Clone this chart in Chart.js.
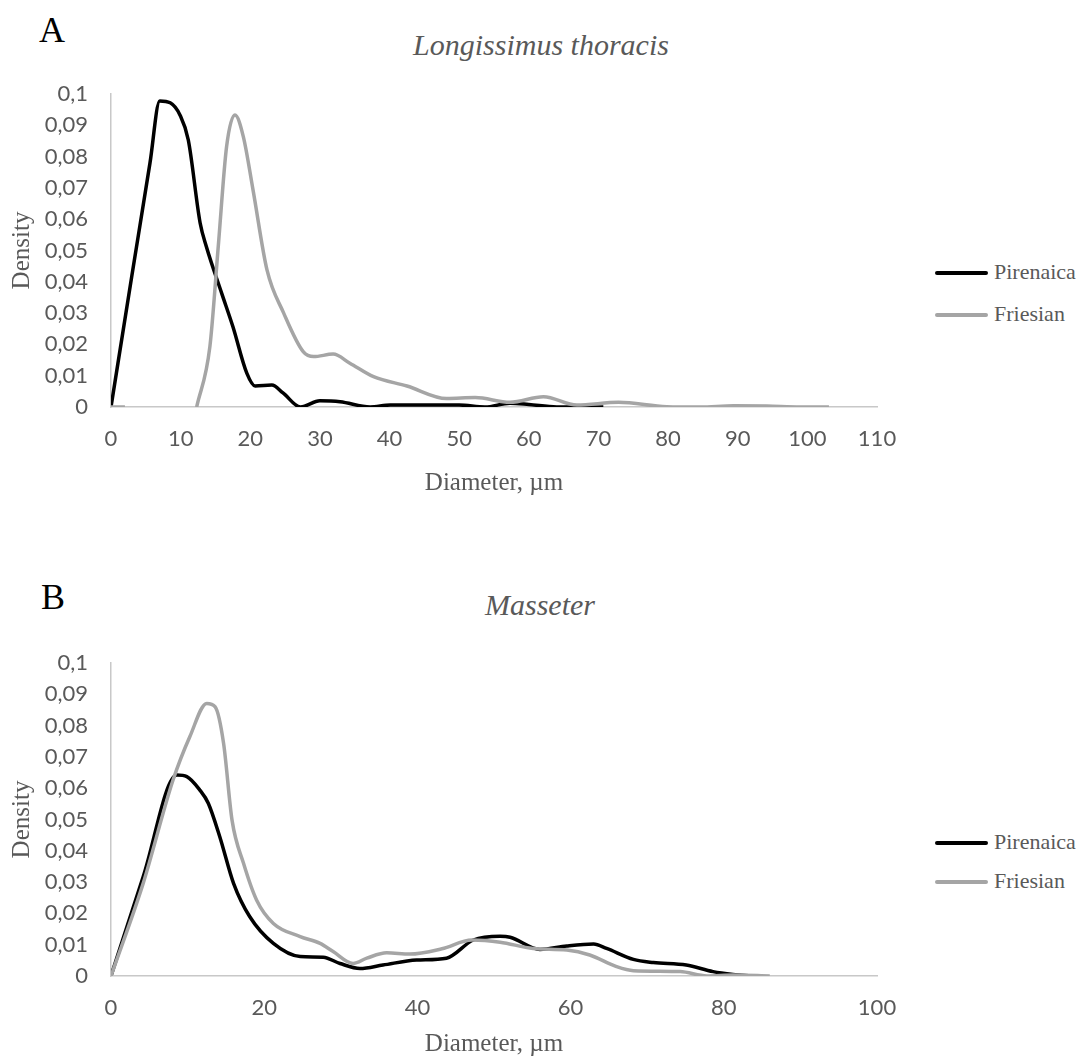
<!DOCTYPE html>
<html>
<head>
<meta charset="utf-8">
<script src="https://cdn.jsdelivr.net/npm/chart.js@4.4.1/dist/chart.umd.min.js"></script>
<style>
  html, body { margin: 0; padding: 0; background: #fff; }
  body { position: relative; width: 1084px; height: 1059px; overflow: hidden; }
  canvas { position: absolute; left: 0; }
  .t { position: absolute; transform: translate(-50%, -50%); white-space: nowrap; font-family: "Liberation Serif", serif; }
  .letter { font-size: 36px; color: #000; }
  .title { font-size: 30px; font-style: italic; color: #595959; }
  .lg { position: absolute; left: 935px; height: 0; }
  .lg .ln { position: absolute; left: 0; top: -2px; width: 53px; height: 4px; border-radius: 2px; }
  .lg .tx { position: absolute; left: 59px; top: -14px; font-family: "Liberation Serif", serif; font-size: 22px; color: #595959; line-height: 26px; white-space: nowrap; }
</style>
</head>
<body>
<div class="t letter" style="left:52px; top:30px;">A</div>
<div class="t title" style="left:541px; top:45px;">Longissimus thoracis</div>
<div class="t letter" style="left:53px; top:597px;">B</div>
<div class="t title" style="left:540px; top:605px;">Masseter</div>

<div class="lg" style="top:273px;"><div class="ln" style="background:#000"></div><div class="tx">Pirenaica</div></div>
<div class="lg" style="top:315px;"><div class="ln" style="background:#a5a5a5"></div><div class="tx">Friesian</div></div>
<div class="lg" style="top:843px;"><div class="ln" style="background:#000"></div><div class="tx">Pirenaica</div></div>
<div class="lg" style="top:882px;"><div class="ln" style="background:#a5a5a5"></div><div class="tx">Friesian</div></div>

<canvas id="cA" width="1084" height="498" style="top:0px;"></canvas>
<canvas id="cB" width="1084" height="539" style="top:520px;"></canvas>

<script>
// ---- Data ----
const seriesNames = ["Pirenaica", "Friesian"];

// Panel A: Longissimus thoracis
const ltPirenaicaX = [0, 3, 5.6, 7.0, 8.5, 9.9, 11.1, 12.8, 13.7, 15.9, 17.5, 19.5, 20.7, 23.1, 24.7, 27.2, 30.0, 32.9, 37.2, 40.1, 45, 50, 53.7, 57.3, 60, 64, 70.7];
const ltPirenaicaY = [0, 0.042, 0.078, 0.0978, 0.0972, 0.0933, 0.0853, 0.0588, 0.0512, 0.0363, 0.0257, 0.0108, 0.0067, 0.007, 0.0045, 0, 0.002, 0.0017, 0, 0.0006, 0.0006, 0.0006, 0, 0.0012, 0.0008, 0, 0];
const ltFriesianX = [0, 2, 2.1, 12.3, 14.2, 15.4, 16.6, 17.8, 19.0, 20.4, 22.4, 24.8, 27.6, 29.1, 31.9, 34.3, 37.7, 42.5, 48.2, 52.3, 57.3, 62.1, 66.9, 72.9, 79.8, 84.6, 89.4, 94.2, 99, 103.1];
const ltFriesianY = [0, 0, null, 0, 0.0193, 0.0512, 0.0832, 0.0933, 0.0864, 0.0693, 0.0438, 0.030, 0.0177, 0.0161, 0.0169, 0.014, 0.0097, 0.0067, 0.0027, 0.003, 0.0015, 0.0033, 0.0006, 0.0015, 0.0001, 0, 0.0004, 0.0003, 0, 0];

// Panel B: Masseter
const maPirenaicaX = [0, 4.2, 8.6, 9.9, 11.6, 12.7, 14.2, 16.0, 18.1, 21.2, 24.7, 27.7, 29.9, 32.5, 35.5, 39.9, 43.8, 47.3, 50.8, 52.1, 56.0, 59.5, 63.0, 64.7, 68.2, 70.8, 75.1, 78.6, 81.2, 83.6];
const maPirenaicaY = [0, 0.0317, 0.0642, 0.0637, 0.0594, 0.0552, 0.0445, 0.0296, 0.019, 0.0104, 0.0062, 0.006, 0.004, 0.0024, 0.0035, 0.0051, 0.0057, 0.0115, 0.0127, 0.0124, 0.0085, 0.0096, 0.0102, 0.0088, 0.0053, 0.0043, 0.0035, 0.0014, 0.0005, 0];
const maFriesianX = [0, 4.2, 8.1, 10.3, 12.5, 13.6, 14.7, 15.8, 17.3, 19.0, 21.2, 24.7, 27.3, 29.0, 31.6, 33.4, 36.0, 39.0, 43.2, 47.1, 50.8, 55.1, 59.5, 62.5, 66.0, 68.2, 74.3, 77.8, 81.2, 86];
const maFriesianY = [0, 0.0296, 0.0626, 0.0765, 0.0871, 0.086, 0.0743, 0.0498, 0.036, 0.0243, 0.0168, 0.0126, 0.0104, 0.0078, 0.004, 0.0057, 0.0074, 0.007, 0.0087, 0.0115, 0.0108, 0.0088, 0.0083, 0.0067, 0.003, 0.0017, 0.0014, 0, 0.0003, 0];

// Axis ticks
const yMin = 0, yMax = 0.1, yStep = 0.01;
const xA = { min: 0, max: 110, step: 10 };
const xB = { min: 0, max: 100, step: 20 };
const xTitle = "Diameter, µm";
const yTitle = "Density";

// ---- Helpers ----
const pts = (xs, ys) => xs.map((x, i) => ({ x: x, y: ys[i] }));
const tickFont = { family: "Lato, 'Open Sans', sans-serif", size: 22 };
const serifFont = { family: "'Liberation Serif', serif", size: 25 };
const axisColor = '#c8c8c8';
const textGray = '#595959';

function makeChart(id, cfg) {
  return new Chart(document.getElementById(id), {
    type: 'scatter',
    data: {
      datasets: [
        { label: seriesNames[1], data: cfg.fri, borderColor: '#a5a5a5', backgroundColor: '#a5a5a5' },
        { label: seriesNames[0], data: cfg.pir, borderColor: '#000000', backgroundColor: '#000000' }
      ].map(d => Object.assign(d, { showLine: true, pointRadius: 0, pointHoverRadius: 0, borderWidth: 3.5, cubicInterpolationMode: 'monotone', spanGaps: false, fill: false }))
    },
    options: {
      responsive: false,
      animation: false,
      events: [],
      layout: { padding: { left: 0, right: 207, top: cfg.padTop, bottom: 0 } },
      plugins: { legend: { display: false }, tooltip: { enabled: false }, title: { display: false } },
      scales: {
        x: {
          type: 'linear', min: cfg.x.min, max: cfg.x.max,
          ticks: { stepSize: cfg.x.step, color: textGray, font: tickFont, padding: 19, maxRotation: 0, autoSkip: false },
          grid: { display: false, drawTicks: false },
          border: { display: true, color: axisColor, width: 1.5 },
          title: { display: true, text: xTitle, color: textGray, font: serifFont, padding: { top: 0, bottom: cfg.xTitlePad } },
          afterFit: s => { s.height = cfg.xHeight; }
        },
        y: {
          type: 'linear', min: yMin, max: yMax,
          ticks: { stepSize: yStep, color: textGray, font: tickFont, padding: 23,
                   callback: v => String(Math.round(v * 100) / 100).replace('.', ',') },
          grid: { display: false, drawTicks: false },
          border: { display: true, color: axisColor, width: 1.5 },
          title: { display: true, text: yTitle, color: textGray, font: serifFont, padding: { top: 7, bottom: 0 } },
          afterFit: s => { s.width = 111; }
        }
      }
    }
  });
}

makeChart('cA', {
  pir: pts(ltPirenaicaX, ltPirenaicaY),
  fri: pts(ltFriesianX, ltFriesianY),
  x: xA, padTop: 94, xHeight: 91, xTitlePad: 0
});
makeChart('cB', {
  pir: pts(maPirenaicaX, maPirenaicaY),
  fri: pts(maFriesianX, maFriesianY),
  x: xB, padTop: 143, xHeight: 83, xTitlePad: 0
});
</script>
</body>
</html>
